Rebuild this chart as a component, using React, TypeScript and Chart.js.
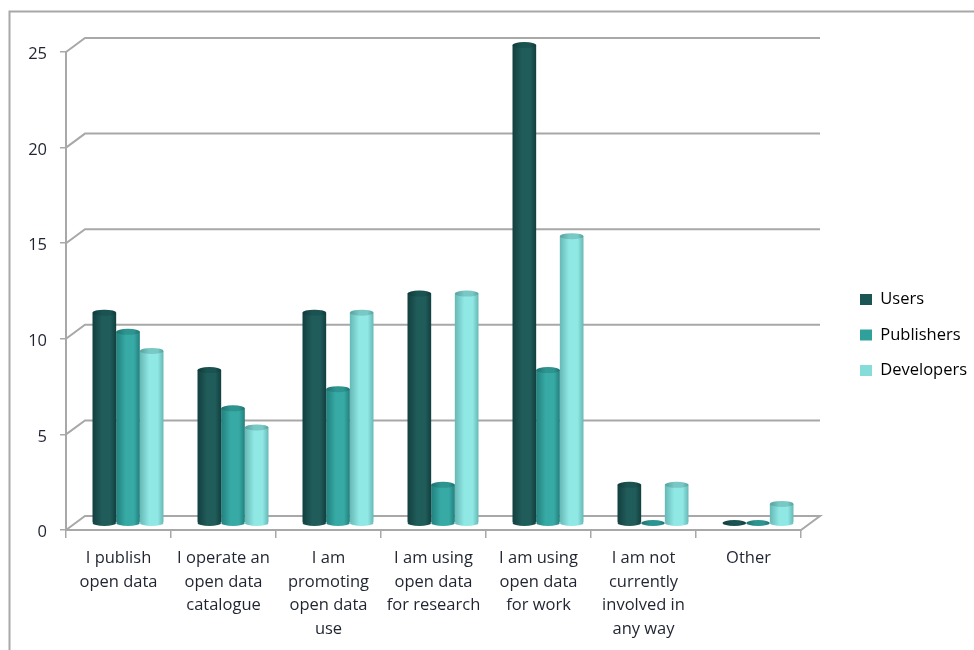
import React, { useEffect, useRef } from "react";
import { Chart, registerables } from "chart.js";

Chart.register(...registerables);

const categories = [
  ["I publish", "open data"],
  ["I operate an", "open data", "catalogue"],
  ["I am", "promoting", "open data", "use"],
  ["I am using", "open data", "for research"],
  ["I am using", "open data", "for work"],
  ["I am not", "currently", "involved in", "any way"],
  ["Other"],
];
const users = [11, 8, 11, 12, 25, 2, 0];
const publishers = [10, 6, 7, 2, 8, 0, 0];
const developers = [9, 5, 11, 12, 15, 2, 1];

const seriesNames = ["Users", "Publishers", "Developers"];
const seriesValues = [users, publishers, developers];
const legendColors = ["#1c5654", "#30a09b", "#86dcd8"];
// edge and highlight shades for each cylinder
const edgeColors = ["#123f3f", "#22807d", "#66b8b5"];
const lightColors = ["#205c5a", "#37aaa5", "#90e8e4"];
const CAP_SHADE = "rgba(0, 40, 40, 0.16)";

const GREY = "#a8a8a8";
const TEXT = "#1f2430";
const FONT = "'Open Sans', sans-serif";
const DEPTH_X = 19;
const DEPTH_Y = 14;
const BAR_SHIFT_X = DEPTH_X / 2;
const BAR_SHIFT_Y = -DEPTH_Y / 2;
const CAP_RY = 3;
const CATEGORY_PERCENT = 0.676;

const cylinderFill = (ctx: any) => {
  const chart = ctx.chart;
  const xScale = chart.scales.x;
  if (!xScale || ctx.dataIndex === undefined) return legendColors[ctx.datasetIndex];
  const slot = (xScale.getPixelForValue(1) - xScale.getPixelForValue(0)) * CATEGORY_PERCENT / 3;
  const center = xScale.getPixelForValue(ctx.dataIndex) + (ctx.datasetIndex - 1) * slot;
  const g = chart.ctx.createLinearGradient(center - slot / 2, 0, center + slot / 2, 0);
  const i = ctx.datasetIndex;
  g.addColorStop(0, edgeColors[i]);
  g.addColorStop(0.4, lightColors[i]);
  g.addColorStop(0.75, lightColors[i]);
  g.addColorStop(1, edgeColors[i]);
  return g;
};

// Frame, receding grid lines and floor of the 3D plot box
const boxPlugin = {
  id: "plotBox",
  beforeLayout(chart: any) {
    const lg = chart.legend;
    const baseFit = Object.getPrototypeOf(lg).fit;
    lg.fit = function () {
      baseFit.call(this);
      this.width = 173;
    };
  },
  afterLayout(chart: any) {
    const lg = chart.legend;
    lg.left = 841;
    lg.top = 10;
    lg.bottom = lg.top + 650;
  },
  beforeDatasetsDraw(chart: any) {
    const { ctx, chartArea, scales } = chart;
    const { left, right } = chartArea;
    ctx.save();
    ctx.strokeStyle = GREY;
    ctx.lineWidth = 2;
    ctx.beginPath();
    ctx.moveTo(9.5, 650);
    ctx.lineTo(9.5, 11.5);
    ctx.lineTo(974, 11.5);
    ctx.stroke();
    scales.y.ticks.forEach((t: any) => {
      const y = scales.y.getPixelForValue(t.value);
      ctx.beginPath();
      ctx.moveTo(left, y);
      ctx.lineTo(left + DEPTH_X, y - DEPTH_Y);
      ctx.lineTo(right + DEPTH_X, y - DEPTH_Y);
      if (t.value === 0) {
        ctx.lineTo(right, y);
        ctx.lineTo(left, y);
      }
      ctx.stroke();
    });
    ctx.restore();
  },
  beforeDatasetDraw(chart: any, args: any) {
    const { ctx } = chart;
    ctx.save();
    ctx.translate(BAR_SHIFT_X, BAR_SHIFT_Y);
    const meta = chart.getDatasetMeta(args.index);
    const base = chart.scales.y.getPixelForValue(0);
    meta.data.forEach((bar: any) => {
      if (bar.y >= base) return;
      ctx.fillStyle = bar.options.backgroundColor;
      ctx.beginPath();
      ctx.ellipse(bar.x, base, bar.width / 2, CAP_RY, 0, 0, Math.PI * 2);
      ctx.fill();
    });
  },
  afterDatasetDraw(chart: any, args: any) {
    const { ctx } = chart;
    const meta = chart.getDatasetMeta(args.index);
    meta.data.forEach((bar: any) => {
      ctx.beginPath();
      ctx.ellipse(bar.x, bar.y, bar.width / 2, CAP_RY, 0, 0, Math.PI * 2);
      ctx.fillStyle = bar.options.backgroundColor;
      ctx.fill();
      ctx.fillStyle = CAP_SHADE;
      ctx.fill();
    });
    ctx.restore();
  },
};

export default function App() {
  const canvasRef = useRef<HTMLCanvasElement>(null);

  useEffect(() => {
    const chart = new Chart(canvasRef.current as HTMLCanvasElement, {
      type: "bar",
      data: {
        labels: categories,
        datasets: seriesNames.map((name, i) => ({
          label: name,
          data: seriesValues[i],
          backgroundColor: cylinderFill,
          borderWidth: 0,
          categoryPercentage: CATEGORY_PERCENT,
          barPercentage: 1,
          clip: false,
        })),
      },
      options: {
        animation: false,
        responsive: false,
        layout: { padding: { top: 52, left: 0, right: 0, bottom: 0 } },
        plugins: {
          tooltip: { enabled: false },
          title: { display: false },
          legend: {
            position: "right",
            labels: {
              boxWidth: 12,
              boxHeight: 11,
              padding: 19,
              color: TEXT,
              font: { family: FONT, size: 16.5 },
              generateLabels: () =>
                seriesNames.map((name, i) => ({
                  text: name,
                  fillStyle: legendColors[i],
                  strokeStyle: "transparent",
                  lineWidth: 0,
                  datasetIndex: i,
                })),
            },
          },
        },
        scales: {
          x: {
            grid: {
              drawOnChartArea: false,
              drawTicks: true,
              tickLength: 8,
              color: GREY,
              lineWidth: 1.5,
            },
            border: { display: false },
            ticks: {
              color: TEXT,
              font: { family: FONT, size: 16.5, lineHeight: 1.42 },
              padding: 9,
              maxRotation: 0,
              autoSkip: false,
            },
            afterFit: (s: any) => {
              s.height = 120;
            },
          },
          y: {
            min: 0,
            max: 25,
            grid: {
              drawOnChartArea: false,
              drawTicks: true,
              tickLength: 6,
              color: GREY,
              lineWidth: 1.5,
            },
            border: { display: true, color: GREY, width: 2 },
            ticks: {
              stepSize: 5,
              color: TEXT,
              font: { family: FONT, size: 16.5 },
              padding: 13,
              labelOffset: 2.5,
            },
            afterFit: (s: any) => {
              s.width = 66;
            },
          },
        },
      },
      plugins: [boxPlugin],
    } as any);
    return () => chart.destroy();
  }, []);

  return (
    <div style={{ position: "fixed", left: 0, top: 0, width: 974, height: 650, background: "#fff" }}>
      <canvas ref={canvasRef} width={974} height={650} style={{ display: "block" }} />
    </div>
  );
}
